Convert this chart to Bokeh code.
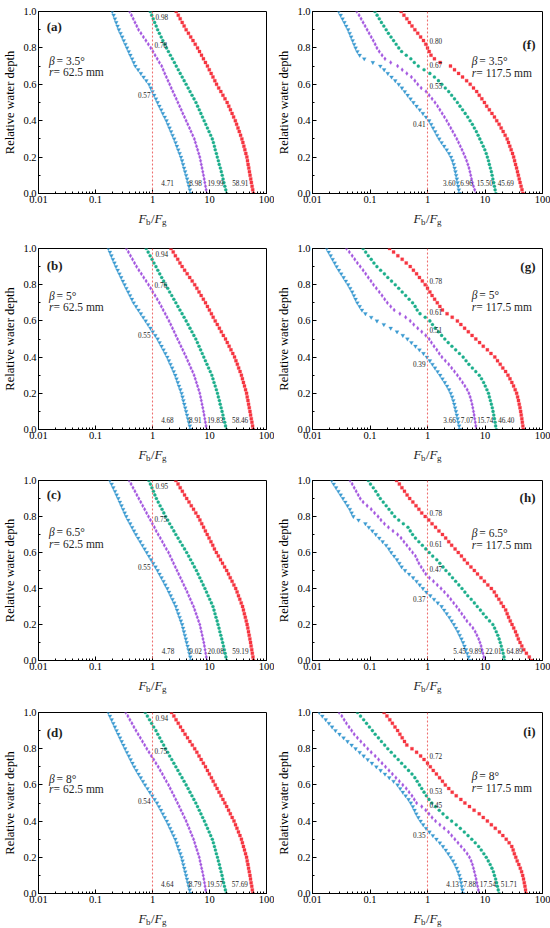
from bokeh.plotting import figure
from bokeh.layouts import gridplot
from bokeh.models import Span, Label, FixedTicker, PrintfTickFormatter, CustomJSTickFormatter, Range1d
from bokeh.embed import file_html
from bokeh.resources import INLINE

FONT = "Liberation Serif"

# relative water depth levels shared by every curve
DEPTH = [0.00, 0.02, 0.04, 0.06, 0.08, 0.10, 0.12, 0.14, 0.16, 0.18,
         0.20, 0.22, 0.24, 0.26, 0.28, 0.30, 0.32, 0.34, 0.36, 0.38,
         0.40, 0.42, 0.44, 0.46, 0.48, 0.50, 0.52, 0.54, 0.56, 0.58,
         0.60, 0.62, 0.64, 0.66, 0.68, 0.70, 0.72, 0.74, 0.76, 0.78,
         0.80, 0.82, 0.84, 0.86, 0.88, 0.90, 0.92, 0.94, 0.96, 0.98, 1.00]

# ---- Fb/Fg values, r = 62.5 mm ----
A_BLUE = [4.71, 4.53, 4.37, 4.20, 4.05, 3.89, 3.73, 3.58, 3.44, 3.30, 3.16, 2.99, 2.83, 2.68, 2.54, 2.40, 2.25, 2.12, 1.99, 1.87, 1.76, 1.64, 1.52, 1.42, 1.32, 1.23, 1.15, 1.07, 1.00, 0.933, 0.871, 0.780, 0.698, 0.625, 0.560, 0.501, 0.469, 0.439, 0.409, 0.383, 0.358, 0.335, 0.313, 0.294, 0.275, 0.257, 0.244, 0.231, 0.219, 0.208, 0.197]
A_PURPLE = [8.98, 8.73, 8.51, 8.28, 8.07, 7.85, 7.62, 7.40, 7.18, 6.97, 6.76, 6.47, 6.19, 5.92, 5.66, 5.42, 5.07, 4.74, 4.45, 4.16, 3.89, 3.64, 3.40, 3.19, 2.99, 2.79, 2.61, 2.44, 2.28, 2.13, 2.00, 1.87, 1.75, 1.64, 1.54, 1.45, 1.32, 1.21, 1.11, 1.02, 0.933, 0.845, 0.766, 0.693, 0.628, 0.569, 0.530, 0.493, 0.459, 0.428, 0.398]
A_GREEN = [19.99, 19.3, 18.6, 17.9, 17.3, 16.7, 16.1, 15.5, 14.8, 14.3, 13.7, 13.2, 12.6, 12.2, 11.7, 11.2, 10.5, 9.82, 9.20, 8.61, 8.05, 7.53, 7.06, 6.61, 6.19, 5.79, 5.35, 4.94, 4.56, 4.22, 3.89, 3.59, 3.32, 3.06, 2.83, 2.61, 2.42, 2.23, 2.06, 1.90, 1.76, 1.64, 1.52, 1.42, 1.32, 1.23, 1.16, 1.09, 1.03, 0.968, 0.912]
A_RED = [58.91, 57.3, 55.8, 54.3, 52.9, 51.5, 50.2, 48.9, 47.6, 46.4, 45.2, 43.4, 41.7, 40.1, 38.5, 37.0, 35.1, 33.3, 31.6, 29.9, 28.4, 26.5, 24.9, 23.3, 21.8, 20.4, 18.7, 17.2, 15.8, 14.5, 13.3, 12.4, 11.5, 10.7, 9.91, 9.20, 8.49, 7.83, 7.24, 6.68, 6.17, 5.62, 5.13, 4.68, 4.27, 3.89, 3.59, 3.32, 3.06, 2.83, 2.61]

B_BLUE = [4.68, 4.51, 4.35, 4.19, 4.04, 3.89, 3.75, 3.61, 3.48, 3.36, 3.24, 3.08, 2.92, 2.78, 2.64, 2.51, 2.36, 2.21, 2.07, 1.94, 1.82, 1.68, 1.56, 1.44, 1.33, 1.23, 1.12, 1.01, 0.920, 0.836, 0.759, 0.689, 0.625, 0.568, 0.515, 0.468, 0.435, 0.404, 0.375, 0.348, 0.324, 0.302, 0.282, 0.263, 0.245, 0.229, 0.215, 0.202, 0.190, 0.179, 0.168]
B_PURPLE = [8.91, 8.69, 8.47, 8.26, 8.05, 7.85, 7.62, 7.40, 7.18, 6.97, 6.76, 6.46, 6.17, 5.89, 5.62, 5.37, 5.04, 4.72, 4.43, 4.15, 3.89, 3.63, 3.39, 3.16, 2.95, 2.75, 2.57, 2.40, 2.24, 2.09, 1.95, 1.80, 1.67, 1.54, 1.43, 1.32, 1.21, 1.11, 1.01, 0.929, 0.851, 0.773, 0.701, 0.637, 0.578, 0.525, 0.484, 0.446, 0.411, 0.378, 0.349]
B_GREEN = [19.83, 19.1, 18.5, 17.8, 17.2, 16.6, 16.0, 15.4, 14.9, 14.3, 13.8, 13.2, 12.6, 12.0, 11.5, 11.0, 10.3, 9.64, 9.04, 8.47, 7.94, 7.45, 6.98, 6.55, 6.14, 5.75, 5.32, 4.92, 4.55, 4.21, 3.89, 3.58, 3.30, 3.03, 2.79, 2.57, 2.37, 2.18, 2.00, 1.85, 1.70, 1.57, 1.45, 1.34, 1.24, 1.15, 1.06, 0.982, 0.908, 0.839, 0.776]
B_RED = [58.46, 57.0, 55.5, 54.1, 52.6, 51.3, 49.9, 48.5, 47.2, 45.9, 44.7, 42.9, 41.1, 39.4, 37.8, 36.3, 34.4, 32.5, 30.8, 29.1, 27.5, 25.6, 23.8, 22.1, 20.5, 19.1, 17.5, 16.1, 14.9, 13.7, 12.6, 11.6, 10.8, 9.95, 9.20, 8.51, 7.80, 7.14, 6.55, 6.00, 5.50, 4.97, 4.49, 4.06, 3.66, 3.31, 3.03, 2.77, 2.52, 2.31, 2.11]

C_BLUE = [4.78, 4.60, 4.44, 4.29, 4.13, 3.98, 3.84, 3.70, 3.56, 3.44, 3.31, 3.15, 2.99, 2.84, 2.70, 2.57, 2.40, 2.24, 2.09, 1.95, 1.82, 1.68, 1.56, 1.44, 1.33, 1.23, 1.13, 1.03, 0.946, 0.867, 0.794, 0.728, 0.667, 0.611, 0.560, 0.513, 0.474, 0.439, 0.406, 0.375, 0.347, 0.325, 0.305, 0.286, 0.268, 0.251, 0.235, 0.220, 0.205, 0.192, 0.179]
C_PURPLE = [9.02, 8.79, 8.57, 8.36, 8.15, 7.94, 7.69, 7.45, 7.21, 6.98, 6.76, 6.43, 6.11, 5.81, 5.52, 5.25, 4.92, 4.61, 4.33, 4.06, 3.80, 3.55, 3.31, 3.09, 2.88, 2.69, 2.51, 2.34, 2.19, 2.04, 1.91, 1.75, 1.61, 1.49, 1.37, 1.26, 1.16, 1.08, 0.995, 0.920, 0.851, 0.787, 0.728, 0.673, 0.622, 0.575, 0.532, 0.492, 0.455, 0.421, 0.389]
C_GREEN = [20.08, 19.4, 18.8, 18.2, 17.6, 17.0, 16.4, 15.8, 15.2, 14.7, 14.1, 13.6, 13.0, 12.5, 12.0, 11.5, 10.8, 10.1, 9.46, 8.87, 8.32, 7.76, 7.24, 6.76, 6.31, 5.89, 5.44, 5.04, 4.66, 4.31, 3.98, 3.65, 3.34, 3.06, 2.81, 2.57, 2.37, 2.18, 2.00, 1.85, 1.70, 1.58, 1.47, 1.36, 1.26, 1.17, 1.10, 1.04, 0.977, 0.918, 0.863]
C_RED = [59.19, 57.8, 56.4, 55.1, 53.7, 52.5, 51.1, 49.7, 48.3, 47.0, 45.7, 44.1, 42.5, 40.9, 39.4, 38.0, 36.0, 34.0, 32.2, 30.5, 28.8, 26.8, 24.9, 23.1, 21.5, 20.0, 18.4, 16.9, 15.6, 14.3, 13.2, 12.2, 11.4, 10.6, 9.82, 9.12, 8.47, 7.87, 7.31, 6.79, 6.31, 5.75, 5.25, 4.79, 4.37, 3.98, 3.65, 3.34, 3.06, 2.81, 2.57]

D_BLUE = [4.64, 4.49, 4.33, 4.18, 4.03, 3.89, 3.75, 3.61, 3.48, 3.36, 3.24, 3.08, 2.92, 2.78, 2.64, 2.51, 2.34, 2.19, 2.04, 1.91, 1.78, 1.64, 1.52, 1.41, 1.30, 1.20, 1.09, 0.991, 0.899, 0.817, 0.741, 0.679, 0.622, 0.570, 0.522, 0.479, 0.445, 0.413, 0.384, 0.356, 0.331, 0.309, 0.288, 0.269, 0.251, 0.234, 0.219, 0.205, 0.192, 0.179, 0.168]
D_PURPLE = [8.79, 8.57, 8.36, 8.17, 7.96, 7.76, 7.52, 7.28, 7.05, 6.82, 6.61, 6.31, 6.03, 5.75, 5.50, 5.25, 4.94, 4.66, 4.39, 4.13, 3.89, 3.63, 3.39, 3.16, 2.95, 2.75, 2.56, 2.38, 2.21, 2.05, 1.91, 1.75, 1.61, 1.49, 1.37, 1.26, 1.15, 1.05, 0.955, 0.871, 0.794, 0.728, 0.667, 0.611, 0.560, 0.513, 0.472, 0.436, 0.401, 0.370, 0.340]
D_GREEN = [19.57, 19.0, 18.3, 17.7, 17.1, 16.6, 16.0, 15.4, 14.9, 14.3, 13.8, 13.2, 12.7, 12.2, 11.7, 11.2, 10.5, 9.86, 9.25, 8.67, 8.13, 7.59, 7.08, 6.61, 6.17, 5.75, 5.32, 4.92, 4.55, 4.21, 3.89, 3.58, 3.30, 3.03, 2.79, 2.57, 2.37, 2.18, 2.00, 1.85, 1.70, 1.57, 1.45, 1.34, 1.24, 1.15, 1.05, 0.966, 0.887, 0.813, 0.746]
D_RED = [57.69, 56.4, 55.1, 53.7, 52.5, 51.3, 49.9, 48.5, 47.2, 45.9, 44.7, 42.9, 41.1, 39.4, 37.8, 36.3, 34.2, 32.2, 30.3, 28.6, 26.9, 25.0, 23.2, 21.6, 20.0, 18.6, 17.2, 15.9, 14.7, 13.6, 12.6, 11.6, 10.8, 9.95, 9.20, 8.51, 7.80, 7.14, 6.55, 6.00, 5.50, 4.99, 4.53, 4.11, 3.73, 3.39, 3.10, 2.83, 2.59, 2.37, 2.16]

# ---- Fb/Fg values, r = 117.5 mm ----
F_BLUE = [3.60, 3.51, 3.42, 3.33, 3.24, 3.15, 3.06, 2.96, 2.86, 2.72, 2.57, 2.37, 2.16, 1.95, 1.76, 1.60, 1.47, 1.36, 1.25, 1.16, 1.07, 0.944, 0.832, 0.733, 0.646, 0.569, 0.507, 0.452, 0.403, 0.359, 0.316, 0.275, 0.237, 0.204, 0.176, 0.151, 0.112, 0.0794, 0.0661, 0.0603, 0.0562, 0.0530, 0.0499, 0.0470, 0.0443, 0.0417, 0.0386, 0.0359, 0.0333, 0.0309, 0.0286]
F_PURPLE = [6.96, 6.61, 6.31, 6.05, 5.83, 5.65, 5.47, 5.27, 5.04, 4.79, 4.52, 4.25, 3.98, 3.72, 3.47, 3.24, 2.99, 2.75, 2.54, 2.34, 2.16, 1.97, 1.80, 1.64, 1.50, 1.35, 1.20, 1.07, 0.944, 0.776, 0.676, 0.603, 0.525, 0.437, 0.363, 0.302, 0.229, 0.182, 0.162, 0.145, 0.132, 0.123, 0.114, 0.105, 0.0966, 0.0891, 0.0822, 0.0759, 0.0700, 0.0646, 0.0590]
F_GREEN = [15.50, 15.0, 14.6, 14.2, 13.7, 13.3, 12.9, 12.4, 11.9, 11.5, 11.0, 10.5, 9.93, 9.33, 8.71, 8.13, 7.59, 7.08, 6.53, 6.03, 5.50, 5.01, 4.52, 4.07, 3.67, 3.31, 2.95, 2.63, 2.34, 2.04, 1.78, 1.55, 1.32, 1.10, 0.871, 0.692, 0.589, 0.513, 0.427, 0.355, 0.316, 0.285, 0.257, 0.232, 0.209, 0.191, 0.174, 0.158, 0.145, 0.133, 0.122]
F_RED = [45.69, 44.0, 42.4, 40.8, 39.4, 38.0, 36.7, 35.4, 34.0, 32.7, 31.5, 30.1, 28.5, 27.0, 25.6, 24.3, 22.4, 20.7, 19.1, 17.6, 16.0, 14.6, 13.2, 11.9, 10.7, 9.77, 8.81, 7.94, 7.16, 6.31, 5.53, 4.79, 4.07, 3.47, 2.95, 2.51, 1.66, 1.32, 1.15, 1.07, 1.00, 0.933, 0.851, 0.759, 0.676, 0.603, 0.537, 0.484, 0.437, 0.389, 0.349]

G_BLUE = [3.66, 3.55, 3.44, 3.34, 3.24, 3.13, 3.02, 2.92, 2.81, 2.68, 2.54, 2.37, 2.19, 2.00, 1.82, 1.66, 1.50, 1.35, 1.22, 1.10, 0.977, 0.851, 0.724, 0.617, 0.525, 0.447, 0.372, 0.295, 0.229, 0.174, 0.132, 0.105, 0.0832, 0.0724, 0.0661, 0.0603, 0.0562, 0.0525, 0.0490, 0.0452, 0.0417, 0.0380, 0.0347, 0.0316, 0.0288, 0.0263, 0.0243, 0.0224, 0.0207, 0.0191, 0.0177]
G_PURPLE = [7.07, 6.92, 6.78, 6.62, 6.47, 6.31, 6.14, 5.96, 5.75, 5.52, 5.25, 4.90, 4.47, 4.07, 3.67, 3.31, 2.95, 2.63, 2.34, 2.04, 1.78, 1.60, 1.45, 1.30, 1.17, 1.07, 0.933, 0.794, 0.676, 0.575, 0.501, 0.417, 0.331, 0.263, 0.229, 0.200, 0.180, 0.162, 0.145, 0.129, 0.115, 0.104, 0.0933, 0.0841, 0.0759, 0.0676, 0.0603, 0.0543, 0.0490, 0.0437, 0.0391]
G_GREEN = [15.74, 15.3, 15.0, 14.6, 14.2, 13.8, 13.4, 12.9, 12.4, 11.9, 11.5, 10.8, 10.1, 9.46, 8.71, 7.94, 6.92, 6.03, 5.25, 4.68, 4.17, 3.59, 3.09, 2.66, 2.29, 2.00, 1.76, 1.55, 1.36, 1.22, 1.10, 0.912, 0.741, 0.661, 0.610, 0.550, 0.479, 0.417, 0.363, 0.316, 0.275, 0.237, 0.204, 0.178, 0.153, 0.132, 0.117, 0.105, 0.0933, 0.0841, 0.0759]
G_RED = [46.40, 45.5, 44.6, 43.7, 42.7, 41.7, 40.6, 39.4, 38.2, 36.9, 35.5, 33.5, 31.4, 29.3, 27.2, 25.1, 22.8, 20.4, 18.4, 16.5, 14.8, 12.7, 11.0, 9.33, 8.04, 6.92, 5.96, 5.13, 4.42, 3.80, 3.31, 2.69, 2.19, 1.82, 1.64, 1.48, 1.33, 1.20, 1.10, 1.00, 0.912, 0.813, 0.724, 0.646, 0.569, 0.501, 0.427, 0.363, 0.305, 0.257, 0.219]

H_BLUE = [5.45, 5.18, 4.92, 4.66, 4.40, 4.15, 3.89, 3.63, 3.39, 3.13, 2.88, 2.63, 2.40, 2.16, 1.95, 1.76, 1.51, 1.30, 1.12, 0.955, 0.832, 0.733, 0.646, 0.562, 0.479, 0.407, 0.355, 0.324, 0.295, 0.263, 0.234, 0.214, 0.191, 0.166, 0.145, 0.126, 0.110, 0.0955, 0.0832, 0.0631, 0.0513, 0.0479, 0.0447, 0.0407, 0.0372, 0.0339, 0.0309, 0.0282, 0.0257, 0.0234, 0.0216]
H_PURPLE = [9.89, 9.55, 9.23, 8.91, 8.55, 8.17, 7.76, 7.24, 6.76, 6.17, 5.50, 4.84, 4.37, 3.94, 3.55, 3.20, 2.85, 2.54, 2.26, 1.97, 1.72, 1.48, 1.27, 1.08, 0.933, 0.851, 0.776, 0.708, 0.661, 0.617, 0.550, 0.490, 0.437, 0.389, 0.347, 0.302, 0.251, 0.209, 0.178, 0.155, 0.138, 0.120, 0.105, 0.0891, 0.0759, 0.0676, 0.0624, 0.0575, 0.0531, 0.0490, 0.0450]
H_GREEN = [22.01, 21.4, 20.7, 20.0, 19.2, 18.4, 17.6, 16.7, 15.7, 14.7, 13.7, 12.0, 10.5, 9.33, 8.32, 7.33, 6.53, 5.75, 5.01, 4.47, 3.98, 3.51, 3.09, 2.72, 2.40, 2.09, 1.86, 1.64, 1.45, 1.23, 1.07, 0.933, 0.813, 0.708, 0.617, 0.550, 0.501, 0.457, 0.380, 0.316, 0.269, 0.240, 0.214, 0.191, 0.170, 0.151, 0.138, 0.126, 0.114, 0.102, 0.0933]
H_RED = [64.89, 58.9, 52.5, 47.3, 43.7, 40.7, 38.0, 35.9, 33.9, 31.6, 29.5, 27.5, 25.7, 24.3, 22.9, 20.9, 19.1, 17.4, 15.8, 14.5, 12.9, 11.2, 9.77, 8.51, 7.41, 6.53, 5.69, 4.95, 4.37, 3.89, 3.43, 3.02, 2.63, 2.34, 2.07, 1.82, 1.58, 1.38, 1.20, 1.05, 0.912, 0.794, 0.708, 0.631, 0.556, 0.490, 0.442, 0.398, 0.359, 0.324, 0.290]

I_BLUE = [4.13, 4.05, 3.95, 3.85, 3.74, 3.59, 3.41, 3.22, 3.01, 2.78, 2.54, 2.30, 2.08, 1.86, 1.64, 1.43, 1.24, 1.08, 0.944, 0.841, 0.759, 0.692, 0.638, 0.596, 0.556, 0.513, 0.468, 0.417, 0.372, 0.335, 0.302, 0.257, 0.216, 0.182, 0.153, 0.129, 0.108, 0.0912, 0.0776, 0.0661, 0.0562, 0.0479, 0.0407, 0.0347, 0.0295, 0.0251, 0.0219, 0.0193, 0.0170, 0.0148, 0.0131]
I_PURPLE = [7.88, 7.66, 7.43, 7.21, 7.00, 6.78, 6.53, 6.31, 6.05, 5.75, 5.37, 4.90, 4.37, 3.85, 3.39, 2.99, 2.63, 2.32, 1.95, 1.64, 1.38, 1.20, 1.06, 0.933, 0.794, 0.646, 0.589, 0.537, 0.479, 0.427, 0.372, 0.324, 0.282, 0.245, 0.214, 0.186, 0.162, 0.141, 0.123, 0.105, 0.0912, 0.0794, 0.0692, 0.0603, 0.0531, 0.0479, 0.0432, 0.0389, 0.0355, 0.0324, 0.0291]
I_GREEN = [17.54, 17.0, 16.4, 15.9, 15.3, 14.6, 14.0, 13.2, 12.3, 11.4, 10.5, 9.55, 8.61, 7.76, 6.76, 5.89, 5.07, 4.37, 3.72, 3.16, 2.63, 2.19, 1.86, 1.60, 1.38, 1.19, 1.06, 0.955, 0.871, 0.794, 0.724, 0.661, 0.603, 0.537, 0.468, 0.407, 0.355, 0.309, 0.269, 0.234, 0.204, 0.180, 0.158, 0.140, 0.123, 0.110, 0.0977, 0.0871, 0.0776, 0.0684, 0.0607]
I_RED = [51.71, 50.7, 49.5, 48.2, 46.8, 45.2, 43.3, 41.1, 38.7, 36.3, 34.3, 32.4, 30.9, 29.2, 26.3, 23.4, 20.4, 17.8, 15.1, 12.9, 11.0, 9.33, 7.94, 6.46, 5.37, 4.47, 3.80, 3.16, 2.69, 2.34, 2.04, 1.82, 1.62, 1.43, 1.26, 1.12, 1.00, 0.871, 0.759, 0.646, 0.537, 0.437, 0.398, 0.363, 0.331, 0.302, 0.272, 0.245, 0.221, 0.197, 0.176]

# depths where curves cross Fb/Fg = 1 (blue, purple, green[, red])
A_CROSS = [0.57, 0.78, 0.98]
B_CROSS = [0.55, 0.76, 0.94]
C_CROSS = [0.55, 0.75, 0.95]
D_CROSS = [0.54, 0.75, 0.94]
F_CROSS = [0.41, 0.55, 0.67, 0.80]
G_CROSS = [0.39, 0.51, 0.61, 0.78]
H_CROSS = [0.37, 0.47, 0.61, 0.78]
I_CROSS = [0.35, 0.45, 0.53, 0.72]

LETTERS = ["(a)", "(b)", "(c)", "(d)", "(f)", "(g)", "(h)", "(i)"]
BETAS = ["3.5°", "5°", "6.5°", "8°"]
RADII = ["62.5 mm", "117.5 mm"]

COLORS = ["#3A9AD1", "#A457DF", "#1BAE8B", "#F6343F"]
MARKERS = ["inverted_triangle", "diamond", "circle", "square"]
SIZES = [3.9, 4.0, 3.1, 3.0]
TXT = "#1e1e1e"

# layout constants
LEFT_TEXT_Y = [(0.92, 0.73, 0.665), (0.905, 0.74, 0.675), (0.925, 0.715, 0.645), (0.89, 0.635, 0.575)]
RIGHT_TEXT_Y = [(0.82, 0.73, 0.66), (0.90, 0.745, 0.675), (0.908, 0.709, 0.641), (0.894, 0.648, 0.581)]
LEFT_BOTTOM_OFF = [-17, -5, -3, -5]
RIGHT_BOTTOM_OFF = [-4, -3, -3, -9]
COLS = [dict(width=274, bl=35, br=8), dict(width=276, bl=34, br=8)]
# (top border, frame height, title strip height) per row
ROWS = [(11, 182, 35), (6, 181, 31), (6, 180, 32), (6, 181, 21)]
BOTTOM = 14


def lbl(p, x, y, text, size, style="normal", align="left", xo=0, yo=0,
        xu="data", yu="data", baseline="middle"):
    p.add_layout(Label(x=x, y=y, x_units=xu, y_units=yu, text=text,
                       text_font=FONT, text_font_size=f"{size}px",
                       text_font_style=style, text_align=align,
                       text_baseline=baseline, x_offset=xo, y_offset=yo,
                       text_color=TXT))


def make_panel(letter, beta, radius, curves, cross, right, text_y, boff, col, row):
    top, fh, _ = row
    p = figure(width=col["width"], height=top + fh + BOTTOM, x_axis_type="log",
               x_range=Range1d(0.01, 100), y_range=Range1d(0, 1),
               output_backend="svg", toolbar_location=None,
               min_border_left=col["bl"], min_border_right=col["br"],
               min_border_top=top, min_border_bottom=BOTTOM)
    p.grid.visible = False
    p.outline_line_color = "black"
    p.outline_line_width = 1
    p.outline_line_alpha = 1
    p.background_fill_color = "white"
    p.border_fill_color = "white"

    xa = p.xaxis[0]
    ya = p.yaxis[0]
    for ax in (xa, ya):
        ax.axis_line_color = "black"
        ax.major_tick_line_color = "black"
        ax.minor_tick_line_color = "black"
        ax.major_tick_in = 4
        ax.major_tick_out = 0
        ax.minor_tick_in = 2
        ax.minor_tick_out = 0
        ax.major_label_text_font = FONT
        ax.major_label_text_font_size = "10.5px"
        ax.major_label_text_color = "black"
        ax.major_label_standoff = 2
    xa.formatter = CustomJSTickFormatter(code="return String(parseFloat(tick.toPrecision(3)));")
    ya.ticker = FixedTicker(ticks=[0, 0.2, 0.4, 0.6, 0.8, 1.0],
                            minor_ticks=[0.1, 0.3, 0.5, 0.7, 0.9])
    ya.formatter = PrintfTickFormatter(format="%.1f")
    ya.axis_label = "Relative water depth"
    ya.axis_label_text_font = FONT
    ya.axis_label_text_font_size = "12.5px"
    ya.axis_label_text_font_style = "normal"
    ya.axis_label_text_color = "black"
    ya.axis_label_standoff = 3

    p.add_layout(Span(location=1, dimension="height", line_color="#EC5F5F",
                      line_dash="2 2", line_width=1.1, line_alpha=0.9))

    for i, xs in enumerate(curves):
        p.scatter(xs, DEPTH, marker=MARKERS[i], size=SIZES[i],
                  fill_color=COLORS[i], line_color=COLORS[i], line_width=0.3)
        lbl(p, xs[0], 0.055, f"{xs[0]:.2f}", 7.2, align="right", xo=boff[i])

    for i, c in enumerate(cross):
        if i == 0:
            lbl(p, 1, c, f"{c:.2f}", 7.2, align="right", xo=-2, yo=-5)
        elif c > 0.9:
            lbl(p, 1, 0.97, f"{c:.2f}", 7.2, align="left", xo=3)
        else:
            lbl(p, 1, c, f"{c:.2f}", 7.2, align="left", xo=2, yo=7)

    if right:
        lbl(p, 100, text_y[0], letter, 13, style="bold", align="right", xo=-7)
        bx = 5.9
    else:
        lbl(p, 0.0139, text_y[0], letter, 13, style="bold", align="left")
        bx = 0.0153
    lbl(p, bx, text_y[1], "β", 11.5, style="italic")
    lbl(p, bx, text_y[1], "= " + beta, 11.5, xo=7.5)
    lbl(p, bx, text_y[2], "r", 11.5, style="italic")
    lbl(p, bx, text_y[2], " = " + radius, 11.5, xo=4.5)
    return p


def make_title(col, h):
    # strip below each panel holding the x-axis title  F_b / F_g
    t = figure(width=col["width"], height=h, x_axis_type="log",
               x_range=Range1d(0.01, 100), y_range=Range1d(0, 1),
               output_backend="svg", toolbar_location=None,
               min_border_left=col["bl"], min_border_right=col["br"], min_border_top=0,
               min_border_bottom=0, x_axis_location=None, y_axis_location=None)
    t.grid.visible = False
    t.outline_line_color = None
    t.background_fill_color = "white"
    t.border_fill_color = "white"
    base = h - 11
    kw = dict(xu="data", yu="screen", baseline="alphabetic")
    lbl(t, 1, base, "F", 13, style="italic", xo=-14, **kw)
    lbl(t, 1, base - 3, "b", 9, xo=-6.4, **kw)
    lbl(t, 1, base, "/", 13, xo=-1.6, **kw)
    lbl(t, 1, base, "F", 13, style="italic", xo=2.0, **kw)
    lbl(t, 1, base - 3, "g", 9, xo=9.6, **kw)
    return t


LEFT_CURVES = [[A_BLUE, A_PURPLE, A_GREEN, A_RED], [B_BLUE, B_PURPLE, B_GREEN, B_RED],
               [C_BLUE, C_PURPLE, C_GREEN, C_RED], [D_BLUE, D_PURPLE, D_GREEN, D_RED]]
RIGHT_CURVES = [[F_BLUE, F_PURPLE, F_GREEN, F_RED], [G_BLUE, G_PURPLE, G_GREEN, G_RED],
                [H_BLUE, H_PURPLE, H_GREEN, H_RED], [I_BLUE, I_PURPLE, I_GREEN, I_RED]]
LEFT_CROSS = [A_CROSS, B_CROSS, C_CROSS, D_CROSS]
RIGHT_CROSS = [F_CROSS, G_CROSS, H_CROSS, I_CROSS]

rows = []
for r in range(4):
    left = make_panel(LETTERS[r], BETAS[r], RADII[0], LEFT_CURVES[r], LEFT_CROSS[r],
                      False, LEFT_TEXT_Y[r], LEFT_BOTTOM_OFF, COLS[0], ROWS[r])
    right = make_panel(LETTERS[r + 4], BETAS[r], RADII[1], RIGHT_CURVES[r], RIGHT_CROSS[r],
                       True, RIGHT_TEXT_Y[r], RIGHT_BOTTOM_OFF, COLS[1], ROWS[r])
    rows.append([left, right])
    rows.append([make_title(COLS[0], ROWS[r][2]), make_title(COLS[1], ROWS[r][2])])

grid = gridplot(rows, toolbar_location=None)
open("out.html", "w").write(file_html(grid, INLINE))
